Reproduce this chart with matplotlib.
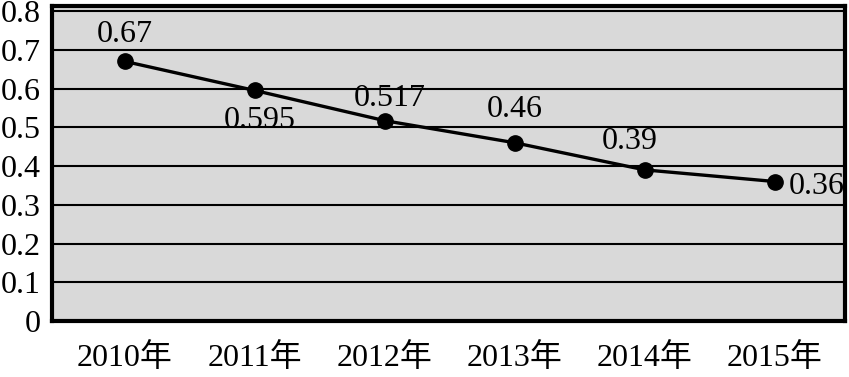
import matplotlib
matplotlib.use("Agg")
import matplotlib.pyplot as plt

years = ["2010年", "2011年", "2012年", "2013年", "2014年", "2015年"]
values = [0.67, 0.595, 0.517, 0.46, 0.39, 0.36]
value_labels = ["0.67", "0.595", "0.517", "0.46", "0.39", "0.36"]
yticks = [0, 0.1, 0.2, 0.3, 0.4, 0.5, 0.6, 0.7, 0.8]

FONT = ["Liberation Serif", "Noto Sans CJK SC"]
plt.rcParams["font.family"] = FONT
FS = 23

fig = plt.figure(figsize=(8.49, 3.77), dpi=100)
ax = fig.add_axes([52 / 849, 1 - 321 / 377, (845 - 52) / 849, (321 - 6) / 377])
ax.set_facecolor("#d9d9d9")

x = list(range(len(years)))
ax.plot(x, values, color="black", lw=2.4, marker="o", ms=11, zorder=3)

ax.set_ylim(0, 0.813)
ax.set_xlim(-0.56, 5.54)
ax.set_yticks(yticks)
ax.set_yticklabels([f"{t:g}" for t in yticks], fontsize=FS)
ax.set_xticks(x)
ax.set_xticklabels(years, fontsize=FS)
ax.tick_params(axis="both", length=0)
ax.tick_params(axis="y", pad=8)
ax.tick_params(axis="x", pad=16)
ax.yaxis.grid(True, color="black", lw=1.5)
ax.set_axisbelow(True)
for s in ax.spines.values():
    s.set_linewidth(3)
    s.set_color("black")

offsets = [(0, 27, "center"), (5, -30, "center"), (5, 22, "center"),
           (0, 33, "center"), (-15, 28, "center"), (14, -5, "left")]
for xi, v, lab, (dx, dy, ha) in zip(x, values, value_labels, offsets):
    ax.annotate(lab, (xi, v), xytext=(dx, dy), textcoords="offset pixels",
                ha=ha, va="center", fontsize=FS, zorder=4)

fig.savefig("out.png", dpi=100)
